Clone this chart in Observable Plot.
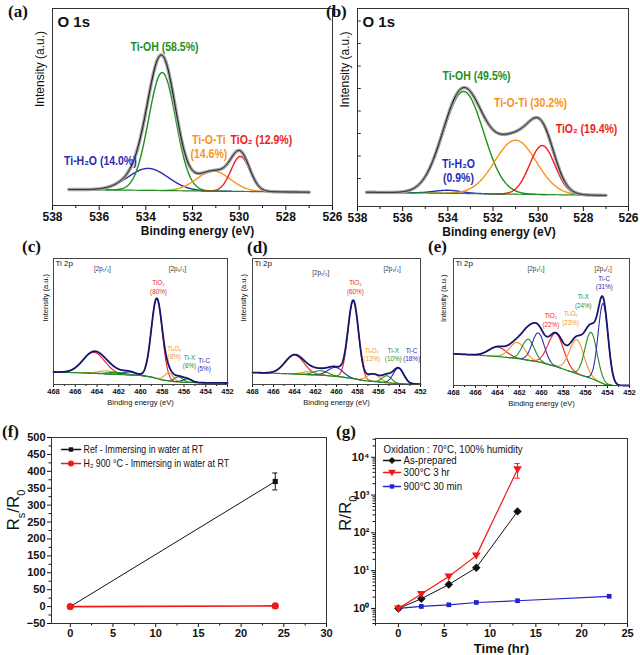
<!DOCTYPE html>
<html><head><meta charset="utf-8">
<script src="https://cdn.jsdelivr.net/npm/d3@7"></script>
<script src="https://cdn.jsdelivr.net/npm/@observablehq/plot@0.6"></script>
<style>
body{margin:0;background:#fff;}
#fig{position:relative;width:640px;height:655px;overflow:hidden;font-family:"Liberation Sans",Arial,sans-serif;}
#fig svg{position:absolute;}
.pl{position:absolute;font-family:"Liberation Serif","Times New Roman",serif;font-weight:bold;font-size:17px;line-height:17px;color:#111;}
</style></head><body><div id="fig"></div><script>
// ================= DATA =================
// (a) O 1s, as prepared — fitted components (center eV, peak height, width)
const o1sNames = ["Ti-H₂O", "Ti-OH", "Ti-O-Ti", "TiO₂"];
const aCenter  = [533.9, 533.3, 531.1, 529.95];
const aHeight  = [22, 118, 20, 35];
const aSigma   = [0.85, 0.58, 0.72, 0.40];
const aPercent = ["14.0%", "58.5%", "14.6%", "12.9%"];
const aBgEv    = [537.3, 527.0];
const aBgVal   = [0, -2.7];
// (b) O 1s, treated
const bCenter  = [534.0, 533.3, 531.0, 529.82];
const bHeight  = [3, 102, 54, 49];
const bSigma   = [0.6, 0.88, 0.92, 0.56];
const bPercent = ["0.9%", "49.5%", "30.2%", "19.4%"];
const bBgEv    = [537.6, 527.0];
const bBgVal   = [0, -3.2];
// Ti 2p components: TiO2, TixOy, Ti-X, Ti-C  (2p3/2 and 2p1/2 peaks)
const tiNames = ["TiO₂", "TiₓOᵧ", "Ti-X", "Ti-C"];
// (c)
const cPercent = ["80%", "8%", "6%", "5%"];
const cC32 = [458.5, 457.4, 456.5, 455.7];
const cA32 = [80, 8, 5, 3.5];
const cS32 = [0.5, 0.4, 0.4, 0.4];
const cC12 = [464.3, 463.1, 462.2, 461.0];
const cA12 = [21, 3, 2, 3];
const cS12 = [1.0, 0.8, 0.8, 0.6];
const cBgEv  = [468, 465, 462, 460, 459, 458.5, 458, 457, 456, 454, 452];
const cBgVal = [12.5, 11.5, 10, 9, 7.5, 6, 4.5, 3, 2.2, 1.7, 1.5];
// (d)
const dPercent = ["60%", "13%", "10%", "18%"];
const dC32 = [458.4, 456.5, 455.2, 454.1];
const dA32 = [78, 7.5, 7, 15.5];
const dS32 = [0.5, 0.6, 0.45, 0.5];
const dC12 = [464.0, 462.6, 461.5, 460.1];
const dA12 = [19, 3, 4.5, 9];
const dS12 = [0.9, 0.7, 0.7, 0.7];
const dBgEv  = [468, 464, 461, 459.5, 458.5, 457.5, 456, 455, 454, 452];
const dBgVal = [12, 10.5, 9, 7.5, 6, 4, 2.5, 1.5, 0.8, 0.3];
// (e)
const ePercent = ["22%", "23%", "24%", "31%"];
const eC32 = [458.7, 456.8, 455.5, 454.4];
const eA32 = [33, 34, 46, 80];
const eS32 = [0.7, 0.65, 0.55, 0.45];
const eC12 = [464.0, 462.2, 461.2, 460.3];
const eA12 = [9.5, 16, 21, 29];
const eS12 = [0.8, 0.7, 0.55, 0.55];
const eBgEv  = [468, 466, 464, 462, 460, 458.5, 457, 455.4, 454.2, 453.5, 452];
const eBgVal = [31.7, 30.5, 29, 26.7, 23, 18.3, 12.5, 6.7, 1, 0, 0];
// (f) Rs/R0 after immersion in water
const fSeries = ["Ref - Immersing in water at RT", "H₂ 900 °C - Immersing in water at RT"];
const fTime   = [0, 24];
const fRef    = [0, 370];
const fRefErr = [0, 25];
const fH2     = [0, 2];
// (g) R/R0 under oxidation
const gTitle  = "Oxidation : 70°C, 100% humidity";
const gSeries = ["As-prepared", "300°C 3 hr", "900°C 30 min"];
const gTime   = [0, 2.5, 5.5, 8.5, 13];
const gAsPrep = [1, 1.8, 4.3, 12, 370];
const g300    = [1, 2.4, 7, 25, 4800];
const g300Lo  = [1, 2.4, 7, 25, 2800];
const g300Hi  = [1, 2.4, 7, 25, 6800];
const gTime900 = [0, 2.5, 5.5, 8.5, 13, 23];
const g900    = [1, 1.13, 1.25, 1.44, 1.6, 2.1];

// ================= STYLE =================
const GREEN = "#1f8f1f", BLUE = "#2b2bb5", ORANGE = "#f7941d", RED = "#ee1d23", NAVY = "#16166e";
const o1sColor = [BLUE, GREEN, ORANGE, RED];
const tiColor = [RED, ORANGE, GREEN, BLUE];
const FONT = "'Liberation Sans', Arial, sans-serif";
const NARROW = "'Liberation Sans Narrow', 'Liberation Sans', 'DejaVu Sans', Arial, sans-serif";
const baseStyle = {background: "transparent", fontFamily: FONT, overflow: "visible", color: "#111"};
const fig = document.getElementById("fig");

// subscript markup only for the two ratio axis titles
function richify(root) {
  root.querySelectorAll("text").forEach(el => {
    if (el.childNodes.length !== 1 || el.firstChild.nodeType !== 3) return;
    const s = el.textContent;
    if (!/_\{/.test(s)) return;
    el.textContent = "";
    const re = /_\{([^}]*)\}/g;
    let last = 0, m;
    const add = (str, sub) => {
      const t = document.createElementNS("http://www.w3.org/2000/svg", "tspan");
      t.textContent = str;
      if (sub) { t.setAttribute("baseline-shift", "sub"); t.setAttribute("font-size", "65%"); }
      el.appendChild(t);
    };
    while ((m = re.exec(s))) {
      if (m.index > last) add(s.slice(last, m.index));
      add(m[1], true);
      last = re.lastIndex;
    }
    if (last < s.length) add(s.slice(last));
  });
}
// narrow (condensed) annotation text, as in the reference
function condense(root, ratio) {
  root.querySelectorAll('g[font-family*="Narrow"] text').forEach(t => {
    const w = t.getComputedTextLength();
    if (w > 0) { t.setAttribute("textLength", (w * ratio).toFixed(1)); t.setAttribute("lengthAdjust", "spacingAndGlyphs"); }
  });
}
function place(svg, left, top) {
  svg.style.left = left + "px"; svg.style.top = top + "px";
  fig.appendChild(svg); richify(svg); condense(svg, 0.84);
}
function letter(t, left, top) {
  const d = document.createElement("div"); d.className = "pl"; d.textContent = t;
  d.style.left = left + "px"; d.style.top = top + "px"; fig.appendChild(d);
}
function lerp(xs, ys, x) {
  for (let i = 0; i < xs.length - 1; i++) {
    const a = xs[i], b = xs[i + 1];
    if ((x <= a && x >= b) || (x >= a && x <= b)) return ys[i] + (x - a) / (b - a) * (ys[i + 1] - ys[i]);
  }
  const hi = xs.indexOf(d3.max(xs)), lo = xs.indexOf(d3.min(xs));
  return x > xs[hi] ? ys[hi] : ys[lo];
}
const gauss = (x, c, a, s) => a * Math.exp(-((x - c) ** 2) / (2 * s * s));
function lab(x, y, t, fill, o = {}) {
  return Plot.text([{x, y, t}], {x: "x", y: "y", text: "t", fill, fontSize: 12.5, fontWeight: "bold", fontFamily: NARROW, ...o});
}
function ftext(t, o) { return Plot.text([t], {text: d => d, ...o}); }

// ================= O 1s panels =================
function o1s(cfg) {
  const grid = d3.range(cfg.x0, cfg.x1 - 1e-9, -0.02);
  const bg = x => lerp(cfg.bgEv, cfg.bgVal, x);
  const marks = [];
  cfg.center.forEach((c, i) => {
    const pts = grid.filter(x => Math.abs(x - c) <= 4.2 * cfg.sigma[i]).map(x => ({x, y: bg(x) + gauss(x, c, cfg.height[i], cfg.sigma[i])}));
    marks.push(Plot.line(pts, {x: "x", y: "y", stroke: o1sColor[i], strokeWidth: 1.4}));
  });
  marks.push(Plot.line(grid.map(x => ({x, y: bg(x)})), {x: "x", y: "y", stroke: GREEN, strokeWidth: 1.2}));
  const env = grid.map(x => ({x, y: bg(x) + d3.sum(cfg.center, (c, i) => gauss(x, c, cfg.height[i], cfg.sigma[i]))}));
  marks.push(Plot.line(env, {x: "x", y: "y", stroke: "#a3a3a3", strokeWidth: 3.4}));
  marks.push(Plot.line(env, {x: "x", y: "y", stroke: "#111", strokeWidth: 1}));
  marks.push(Plot.axisX(d3.range(526, 539, 2), {tickSize: 5, fontSize: 12, fontWeight: "bold", tickPadding: 2, label: null}));
  marks.push(Plot.axisX(d3.range(527, 538, 2), {tickSize: 3, tickFormat: () => "", label: null}));
  marks.push(ftext("O 1s", {frameAnchor: "top-left", dx: 5, dy: 14, textAnchor: "start", lineAnchor: "middle", fontSize: 15, fontWeight: "bold"}));
  marks.push(ftext("Intensity (a.u.)", {frameAnchor: "left", dx: -12, rotate: -90, fontSize: 12, lineAnchor: "middle"}));
  marks.push(ftext("Binding energy (eV)", {frameAnchor: "bottom", dy: 26, dx: cfg.xlabDx, fontSize: 12, fontWeight: "bold", lineAnchor: "middle"}));
  marks.push(...cfg.labels);
  marks.push(Plot.frame({stroke: "#333", strokeWidth: 1}));
  return Plot.plot({
    width: cfg.width, height: cfg.height_px,
    marginLeft: cfg.ml, marginRight: cfg.mr, marginTop: cfg.mt, marginBottom: cfg.mb,
    x: {domain: [538, 526]}, y: {domain: cfg.yDomain, axis: null},
    style: baseStyle, marks
  });
}

const svgA = o1s({
  x0: 537.3, x1: 527, bgEv: aBgEv, bgVal: aBgVal, center: aCenter, height: aHeight, sigma: aSigma,
  width: 340, height_px: 250, ml: 52, mr: 8, mt: 8, mb: 45, yDomain: [-16, 181], xlabDx: 5,
  labels: [
    lab(533.2, 143, `${o1sNames[1]} (${aPercent[1]})`, GREEN),
    lab(535.95, 29, `${o1sNames[0]} (${aPercent[0]})`, BLUE),
    lab(531.3, 50, o1sNames[2], ORANGE),
    lab(531.3, 36, `(${aPercent[2]})`, ORANGE),
    lab(529.05, 50, `${o1sNames[3]} (${aPercent[3]})`, RED)
  ]
});
place(svgA, 0, 0);

const svgB = o1s({
  x0: 537.6, x1: 527, bgEv: bBgEv, bgVal: bBgVal, center: bCenter, height: bHeight, sigma: bSigma,
  width: 320, height_px: 250, ml: 37, mr: 12, mt: 8, mb: 44, yDomain: [-14.3, 183.7], xlabDx: 6,
  labels: [
    lab(532.73, 116.7, `${o1sNames[1]} (${bPercent[1]})`, GREEN),
    lab(530.34, 89.7, `${o1sNames[2]} (${bPercent[2]})`, ORANGE),
    lab(527.86, 63.7, `${o1sNames[3]} (${bPercent[3]})`, RED),
    lab(533.53, 28.7, o1sNames[0], BLUE),
    lab(533.53, 14.7, `(${bPercent[0]})`, BLUE),
    Plot.ruleY(d3.range(13.7, 180, 22.5), {x1: 538, x2: 537.83, stroke: "#333"})
  ]
});
place(svgB, 320, 0);

// ================= Ti 2p panels =================
function ti2p(cfg) {
  const grid = d3.range(468, 452 - 1e-9, -0.02);
  const bg = x => lerp(cfg.bgEv, cfg.bgVal, x);
  const peaks = [];
  for (let i = 0; i < 4; i++) { peaks.push([cfg.c32[i], cfg.a32[i], cfg.s32[i], i]); peaks.push([cfg.c12[i], cfg.a12[i], cfg.s12[i], i]); }
  const marks = [];
  const env = grid.map(x => ({x, y: bg(x) + d3.sum(peaks, p => gauss(x, p[0], p[1], p[2]))}));
  peaks.forEach(([c, a, s, i]) => {
    const pts = grid.filter(x => Math.abs(x - c) <= 3.8 * s).map(x => ({x, y: bg(x) + gauss(x, c, a, s)}));
    marks.push(Plot.line(pts, {x: "x", y: "y", stroke: tiColor[i], strokeWidth: 1.1}));
  });
  marks.push(Plot.line(grid.map(x => ({x, y: bg(x)})), {x: "x", y: "y", stroke: GREEN, strokeWidth: 1.2}));
  marks.push(Plot.line(env, {x: "x", y: "y", stroke: NAVY, strokeWidth: 1.8}));
  marks.push(Plot.axisX(d3.range(452, 469, 2), {tickSize: 3, fontSize: 7.5, fontWeight: "bold", tickPadding: 1.5, label: null}));
  marks.push(Plot.axisX(d3.range(453, 468, 2), {tickSize: 2, tickFormat: () => "", label: null}));
  marks.push(ftext("Ti 2p", {frameAnchor: "top-left", dx: 2, dy: 5, textAnchor: "start", lineAnchor: "middle", fontSize: 8}));
  marks.push(ftext("Intensity (a.u.)", {frameAnchor: "left", dx: cfg.ylabDx, rotate: -90, fontSize: 7.5, lineAnchor: "middle"}));
  marks.push(ftext("Binding energy (eV)", {frameAnchor: "bottom", dy: 18, fontSize: 7.5, lineAnchor: "middle"}));
  marks.push(...cfg.labels);
  marks.push(Plot.frame({stroke: "#444", strokeWidth: 1}));
  return Plot.plot({
    width: cfg.width, height: 185,
    marginLeft: cfg.ml, marginRight: cfg.mr, marginTop: 33, marginBottom: cfg.mb,
    x: {domain: [468, 452]}, y: {domain: [0, 185 - 33 - cfg.mb], axis: null},
    style: baseStyle, marks
  });
}
const sm = (x, y, t, fill) => lab(x, y, t, fill, {fontSize: 7.5, fontWeight: "normal"});
const ORB12 = "[2p₁/₂]", ORB32 = "[2p₃/₂]";

const svgC = ti2p({
  c32: cC32, a32: cA32, s32: cS32, c12: cC12, a12: cA12, s12: cS12, bgEv: cBgEv, bgVal: cBgVal,
  width: 232, ml: 53, mr: 5, mb: 26, ylabDx: -8,
  labels: [
    sm(463.5, 116, ORB12, "#333"), sm(456.6, 116, ORB32, "#333"),
    sm(458.35, 102, tiNames[0], RED), sm(458.35, 93, `(${cPercent[0]})`, RED),
    sm(456.9, 36, tiNames[1], ORANGE), sm(456.9, 28, `(${cPercent[1]})`, ORANGE),
    sm(455.5, 27, tiNames[2], GREEN), sm(455.5, 19, `(${cPercent[2]})`, GREEN),
    sm(454.15, 24, tiNames[3], BLUE), sm(454.15, 16, `(${cPercent[3]})`, BLUE)
  ]
});
place(svgC, 0, 225);

const svgD = ti2p({
  c32: dC32, a32: dA32, s32: dS32, c12: dC12, a12: dA12, s12: dS12, bgEv: dBgEv, bgVal: dBgVal,
  width: 215, ml: 42, mr: 5, mb: 26, ylabDx: -9,
  labels: [
    sm(461.5, 112, ORB12, "#333"), sm(454.7, 116, ORB32, "#333"),
    sm(458.2, 102, tiNames[0], RED), sm(458.2, 93, `(${dPercent[0]})`, RED),
    sm(456.65, 34, tiNames[1], ORANGE), sm(456.65, 26, `(${dPercent[1]})`, ORANGE),
    sm(454.6, 34, tiNames[2], GREEN), sm(454.6, 26, `(${dPercent[2]})`, GREEN),
    sm(452.85, 34, tiNames[3], BLUE), sm(452.85, 26, `(${dPercent[3]})`, BLUE)
  ]
});
place(svgD, 210, 225);

const svgE = ti2p({
  c32: eC32, a32: eA32, s32: eS32, c12: eC12, a12: eA12, s12: eS12, bgEv: eBgEv, bgVal: eBgVal,
  width: 220, ml: 33, mr: 11, mb: 25, ylabDx: -10,
  labels: [
    sm(460.5, 117, ORB12, "#333"), sm(454.4, 117, ORB32, "#333"),
    sm(454.3, 107, tiNames[3], BLUE), sm(454.3, 99, `(${ePercent[3]})`, BLUE),
    sm(456.2, 89, tiNames[2], GREEN), sm(456.2, 80, `(${ePercent[2]})`, GREEN),
    sm(457.35, 72, tiNames[1], ORANGE), sm(457.35, 63, `(${ePercent[1]})`, ORANGE),
    sm(459.15, 70, tiNames[0], RED), sm(459.15, 61, `(${ePercent[0]})`, RED)
  ]
});
place(svgE, 420, 225);

// ================= (f) =================
const fRefData = fTime.map((t, i) => ({t, v: fRef[i], e: fRefErr[i]}));
const fH2Data = fTime.map((t, i) => ({t, v: fH2[i]}));
const svgF = Plot.plot({
  width: 330, height: 230, marginLeft: 51, marginRight: 4, marginTop: 17, marginBottom: 27,
  x: {domain: [-2.2, 30]}, y: {domain: [-50, 500]},
  style: baseStyle,
  marks: [
    Plot.line(fRefData, {x: "t", y: "v", stroke: "#111", strokeWidth: 1}),
    Plot.ruleX(fRefData.filter(d => d.e > 0), {x: "t", y1: d => d.v - d.e, y2: d => d.v + d.e, stroke: "#111"}),
    Plot.ruleY(fRefData.filter(d => d.e > 0), {y: d => d.v - d.e, x1: d => d.t - 0.3, x2: d => d.t + 0.3, stroke: "#111"}),
    Plot.ruleY(fRefData.filter(d => d.e > 0), {y: d => d.v + d.e, x1: d => d.t - 0.3, x2: d => d.t + 0.3, stroke: "#111"}),
    Plot.dot(fRefData, {x: "t", y: "v", symbol: "square2", r: 3.3, fill: "#111"}),
    Plot.line(fH2Data, {x: "t", y: "v", stroke: "#f01818", strokeWidth: 1.6}),
    Plot.dot(fH2Data, {x: "t", y: "v", r: 3.6, fill: "#f01818"}),
    // legend
    Plot.line([{x: -1.03, y: 464.5}, {x: 1.2, y: 464.5}], {x: "x", y: "y", stroke: "#111"}),
    Plot.dot([{x: 0.08, y: 464.5}], {x: "x", y: "y", symbol: "square2", r: 2.8, fill: "#111"}),
    Plot.text([{x: 1.55, y: 464.5}], {x: "x", y: "y", text: () => fSeries[0], textAnchor: "start", fontSize: 10.5, fontFamily: NARROW}),
    Plot.line([{x: -1.03, y: 423.1}, {x: 1.2, y: 423.1}], {x: "x", y: "y", stroke: "#f01818", strokeWidth: 1.4}),
    Plot.dot([{x: 0.08, y: 423.1}], {x: "x", y: "y", r: 3, fill: "#f01818"}),
    Plot.text([{x: 1.55, y: 423.1}], {x: "x", y: "y", text: () => fSeries[1], textAnchor: "start", fontSize: 10.5, fontFamily: NARROW}),
    Plot.axisX(d3.range(0, 31, 5), {tickSize: 4, fontSize: 11, fontWeight: "bold", tickPadding: 2, label: null}),
    Plot.axisX(d3.range(2.5, 30, 5), {tickSize: 2.5, tickFormat: () => "", label: null}),
    Plot.axisY(d3.range(-50, 501, 50), {tickSize: 4, fontSize: 11, fontWeight: "bold", tickPadding: 2, label: null}),
    Plot.axisY(d3.range(-25, 500, 50), {tickSize: 2.5, tickFormat: () => "", label: null}),
    ftext("R_{s}/R_{0}", {frameAnchor: "left", dx: -38, rotate: -90, fontSize: 17, lineAnchor: "middle"}),
    Plot.frame({stroke: "#333"})
  ]
});
place(svgF, 0, 420);

// ================= (g) =================
const triDown = {draw(ctx, size) { const r = Math.sqrt(size / Math.PI) * 1.2; ctx.moveTo(-r, -r * 0.7); ctx.lineTo(r, -r * 0.7); ctx.lineTo(0, r * 0.95); ctx.closePath(); }};
const gA = gTime.map((t, i) => ({t, v: gAsPrep[i]}));
const g3 = gTime.map((t, i) => ({t, v: g300[i], lo: g300Lo[i], hi: g300Hi[i]}));
const g9 = gTime900.map((t, i) => ({t, v: g900[i]}));
const supDigits = ["⁰", "¹", "²", "³", "⁴"];
const minorLog = [];
for (let e = -1; e < 5; e++) for (let k = 2; k <= 9; k++) { const v = k * 10 ** e; if (v >= 0.4 && v <= 31000) minorLog.push(v); }
const gRED = "#f01818", gBLUE = "#2222c8";
const legY = [16070, 8220, 3960, 1690];
const svgG = Plot.plot({
  width: 320, height: 235, marginLeft: 55, marginRight: 13, marginTop: 18, marginBottom: 32,
  x: {domain: [-2.5, 25]}, y: {type: "log", domain: [0.4, 31400]},
  style: baseStyle,
  marks: [
    Plot.line(g9, {x: "t", y: "v", stroke: gBLUE, strokeWidth: 1.2}),
    Plot.dot(g9, {x: "t", y: "v", symbol: "square2", r: 3, fill: gBLUE}),
    Plot.line(gA, {x: "t", y: "v", stroke: "#111", strokeWidth: 1}),
    Plot.dot(gA, {x: "t", y: "v", symbol: "diamond2", r: 3.8, fill: "#111"}),
    Plot.line(g3, {x: "t", y: "v", stroke: gRED, strokeWidth: 1.2}),
    Plot.ruleX(g3.filter(d => d.hi > d.lo), {x: "t", y1: "lo", y2: "hi", stroke: gRED}),
    Plot.ruleY(g3.filter(d => d.hi > d.lo), {y: "lo", x1: d => d.t - 0.3, x2: d => d.t + 0.3, stroke: gRED}),
    Plot.ruleY(g3.filter(d => d.hi > d.lo), {y: "hi", x1: d => d.t - 0.3, x2: d => d.t + 0.3, stroke: gRED}),
    Plot.dot(g3, {x: "t", y: "v", symbol: triDown, r: 3.6, fill: gRED}),
    // legend
    Plot.text([{x: -1.63, y: legY[0]}], {x: "x", y: "y", text: () => gTitle, textAnchor: "start", fontSize: 11.5, fontFamily: NARROW}),
    Plot.line([{x: -1.63, y: legY[1]}, {x: 0.23, y: legY[1]}], {x: "x", y: "y", stroke: "#111"}),
    Plot.dot([{x: -0.7, y: legY[1]}], {x: "x", y: "y", symbol: "diamond2", r: 3.2, fill: "#111"}),
    Plot.text([{x: 0.56, y: legY[1]}], {x: "x", y: "y", text: () => gSeries[0], textAnchor: "start", fontSize: 11.5, fontFamily: NARROW}),
    Plot.line([{x: -1.63, y: legY[2]}, {x: 0.23, y: legY[2]}], {x: "x", y: "y", stroke: gRED}),
    Plot.dot([{x: -0.7, y: legY[2]}], {x: "x", y: "y", symbol: triDown, r: 3.2, fill: gRED}),
    Plot.text([{x: 0.56, y: legY[2]}], {x: "x", y: "y", text: () => gSeries[1], textAnchor: "start", fontSize: 11.5, fontFamily: NARROW}),
    Plot.line([{x: -1.63, y: legY[3]}, {x: 0.23, y: legY[3]}], {x: "x", y: "y", stroke: gBLUE}),
    Plot.dot([{x: -0.7, y: legY[3]}], {x: "x", y: "y", symbol: "square2", r: 2.8, fill: gBLUE}),
    Plot.text([{x: 0.56, y: legY[3]}], {x: "x", y: "y", text: () => gSeries[2], textAnchor: "start", fontSize: 11.5, fontFamily: NARROW}),
    Plot.axisX(d3.range(0, 26, 5), {tickSize: 4, fontSize: 11, fontWeight: "bold", tickPadding: 2, label: null}),
    Plot.axisX(d3.range(-2.5, 25, 5), {tickSize: 2.5, tickFormat: () => "", label: null}),
    Plot.axisY([1, 10, 100, 1000, 10000], {tickSize: 4, fontSize: 11, fontWeight: "bold", tickPadding: 2, label: null, tickFormat: d => "10" + supDigits[Math.round(Math.log10(d))]}),
    Plot.axisY(minorLog, {tickSize: 2.5, tickFormat: () => "", label: null}),
    ftext("R/R_{0}", {frameAnchor: "left", dx: -30, rotate: -90, fontSize: 17, lineAnchor: "middle"}),
    ftext("Time (hr)", {frameAnchor: "bottom", dy: 25, fontSize: 13, fontWeight: "bold", lineAnchor: "middle"}),
    Plot.frame({stroke: "#333"})
  ]
});
place(svgG, 320, 420);

// panel letters
letter("(a)", 8, 3); letter("(b)", 326, 3);
letter("(c)", 22, 238); letter("(d)", 247, 239); letter("(e)", 428, 238);
letter("(f)", 2, 423); letter("(g)", 336, 423);
</script></body></html>
